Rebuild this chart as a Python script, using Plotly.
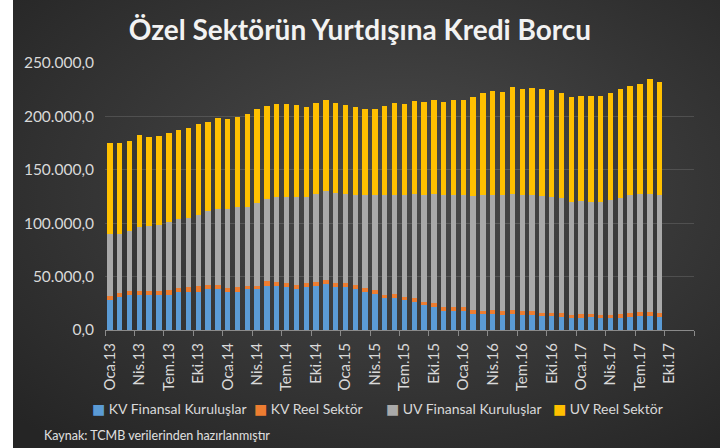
import base64
import plotly.graph_objects as go

# ---- data (million USD) ----
months = [
    "Oca.13", "Şub.13", "Mar.13", "Nis.13", "May.13", "Haz.13", "Tem.13", "Ağu.13", "Eyl.13", "Eki.13", "Kas.13", "Ara.13",
    "Oca.14", "Şub.14", "Mar.14", "Nis.14", "May.14", "Haz.14", "Tem.14", "Ağu.14", "Eyl.14", "Eki.14", "Kas.14", "Ara.14",
    "Oca.15", "Şub.15", "Mar.15", "Nis.15", "May.15", "Haz.15", "Tem.15", "Ağu.15", "Eyl.15", "Eki.15", "Kas.15", "Ara.15",
    "Oca.16", "Şub.16", "Mar.16", "Nis.16", "May.16", "Haz.16", "Tem.16", "Ağu.16", "Eyl.16", "Eki.16", "Kas.16", "Ara.16",
    "Oca.17", "Şub.17", "Mar.17", "Nis.17", "May.17", "Haz.17", "Tem.17", "Ağu.17", "Eyl.17",
]
axis_months = months + ["Eki.17", "Kas.17", "Ara.17"]

kv_finansal = [
    28500, 31000, 33000, 33000, 33000, 33000, 33000, 35500, 35500, 36000, 38000, 38000,
    36000, 36000, 38000, 38000, 41000, 41300, 40000, 38500, 40600, 41300, 43100, 40600,
    40600, 38200, 35900, 33800, 29700, 30000, 28100, 26500, 23000, 21600, 18100, 18100,
    17800, 15300, 14800, 15000, 14500, 14800, 14500, 14200, 13000, 13000, 12600, 11300,
    11300, 11800, 11000, 11000, 11500, 12500, 13000, 13000, 12600,
]
kv_reel = [
    3300, 3800, 3800, 3500, 3800, 3800, 4300, 4000, 5000, 5000, 4200, 4600,
    3600, 4200, 3600, 3600, 4600, 4000, 3600, 3500, 3400, 3400, 3400, 3400,
    3600, 3500, 3200, 3200, 3500, 3300, 3200, 3300, 3200, 3500, 3300, 3200,
    3300, 3200, 3300, 3400, 3300, 3600, 3200, 3200, 3200, 3200, 3200, 3200,
    3300, 3300, 3300, 3400, 3300, 3400, 3400, 3400, 3300,
]
uv_finansal = [
    58200, 55200, 56200, 60200, 60700, 61700, 64200, 64300, 64700, 66900, 68800, 70900,
    73400, 74800, 74000, 77100, 76900, 79700, 81200, 82300, 80200, 82700, 83200, 84200,
    82800, 84900, 87400, 89000, 93600, 93500, 95300, 97200, 100400, 101900, 105200, 105300,
    105100, 107300, 108200, 108200, 108800, 108800, 108900, 108600, 109000, 108600, 107500, 105700,
    106000, 105200, 106000, 107600, 108700, 110700, 110600, 111400, 110700,
]
uv_reel = [
    84800, 84800, 84000, 85800, 83500, 83100, 82900, 83100, 83600, 85200, 84000, 85300,
    84200, 84400, 86300, 87900, 87200, 87000, 86700, 86000, 85000, 85100, 85900, 84800,
    83500, 82600, 80800, 81300, 82900, 85600, 85400, 87300, 87100, 88200, 87100, 89000,
    89400, 92000, 95700, 97200, 96600, 100200, 98800, 100200, 100000, 100200, 98700, 97700,
    98600, 98900, 98900, 99600, 101700, 102200, 103800, 106800, 105700,
]

series_names = ["KV Finansal Kuruluşlar", "KV Reel Sektör", "UV Finansal Kuruluşlar", "UV Reel Sektör"]
series_colors = ["#5B9BD5", "#ED7D31", "#A9A9A9", "#FFC000"]
tick_labels = axis_months[::3]

title_text = "Özel Sektörün Yurtdışına Kredi Borcu"
source_text = "Kaynak: TCMB verilerinden hazırlanmıştır"

# ---- figure ----
W, H = 720, 448
L, R, T, B = 105, 26, 63, 118
pw, ph = W - L - R, H - T - B


def px_x(px):
    return (px - L) / pw


def px_y(py):
    return ((H - B) - py) / ph


x_pos = list(range(len(months)))
fig = go.Figure()
for name, vals, col in zip(series_names, [kv_finansal, kv_reel, uv_finansal, uv_reel], series_colors):
    fig.add_trace(go.Bar(x=x_pos, y=vals, name=name, showlegend=False,
                         marker=dict(color=col, line=dict(width=0))))

tickvals = [axis_months.index(t) for t in tick_labels]
minor_vals = [v - 0.5 for v in tickvals] + [len(axis_months) - 0.5]

svg = (
    '<svg xmlns="http://www.w3.org/2000/svg" width="720" height="448">'
    '<defs><radialGradient id="g" cx="55%" cy="42%" r="75%">'
    '<stop offset="0" stop-color="#4b4b4b"/><stop offset="1" stop-color="#252525"/>'
    '</radialGradient></defs><rect width="720" height="448" fill="url(#g)"/></svg>'
)
bg_src = "data:image/svg+xml;base64," + base64.b64encode(svg.encode()).decode()

x0_px = 13
fig.add_layout_image(
    source=bg_src, xref="paper", yref="paper",
    x=px_x(x0_px), y=px_y(0),
    sizex=(W - x0_px) / pw, sizey=H / ph,
    xanchor="left", yanchor="top", sizing="stretch", layer="below",
)

# legend entries (colored square + label)
legend_x_px = [90, 252, 384, 551]
for name, col, lx in zip(series_names, series_colors, legend_x_px):
    fig.add_annotation(
        text=f"<span style='color:{col};font-family:DejaVu Sans'>■</span> {name}",
        xref="paper", yref="paper", x=px_x(lx), y=px_y(408),
        xanchor="left", yanchor="middle", showarrow=False,
        font=dict(size=14, color="#d9d9d9"),
    )

fig.add_annotation(
    text=source_text, xref="paper", yref="paper",
    x=px_x(42), y=px_y(435),
    xanchor="left", yanchor="middle", showarrow=False,
    font=dict(size=12.5, color="#e0e0e0"),
)

fig.update_layout(
    width=W, height=H,
    margin=dict(l=L, r=R, t=T, b=B, autoexpand=False),
    paper_bgcolor="white",
    plot_bgcolor="rgba(0,0,0,0)",
    barmode="stack",
    bargap=0.45,
    separators=",.",
    font=dict(family="Lato, 'Open Sans', sans-serif", color="#d9d9d9", size=13),
    title=dict(
        text=title_text, x=0.5, xref="container", xanchor="center",
        y=1 - 30 / H, yref="container", yanchor="middle",
        font=dict(size=28, color="#f2f2f2", weight="bold"),
    ),
    xaxis=dict(
        range=[-0.5, len(axis_months) - 0.5], automargin=False,
        tickmode="array", tickvals=tickvals, ticktext=tick_labels,
        tickangle=-90, ticks="", showgrid=False, zeroline=False,
        showline=True, linecolor="#8a8a8a", linewidth=1,
        tickfont=dict(size=15, color="#d9d9d9"),
        ticklabelstandoff=6,
        minor=dict(tickmode="array", tickvals=minor_vals, ticks="outside",
                   ticklen=5, tickcolor="#8a8a8a", tickwidth=1, showgrid=False),
    ),
    yaxis=dict(
        range=[0, 250000], dtick=50000, tickformat=",.1f", automargin=False,
        showgrid=True, gridcolor="rgba(255,255,255,0.13)", gridwidth=1,
        zeroline=False, showline=False, ticks="", ticklabelstandoff=10,
        tickfont=dict(size=15.5, color="#d9d9d9"),
    ),
    showlegend=False,
)

fig.write_html("out.html")
